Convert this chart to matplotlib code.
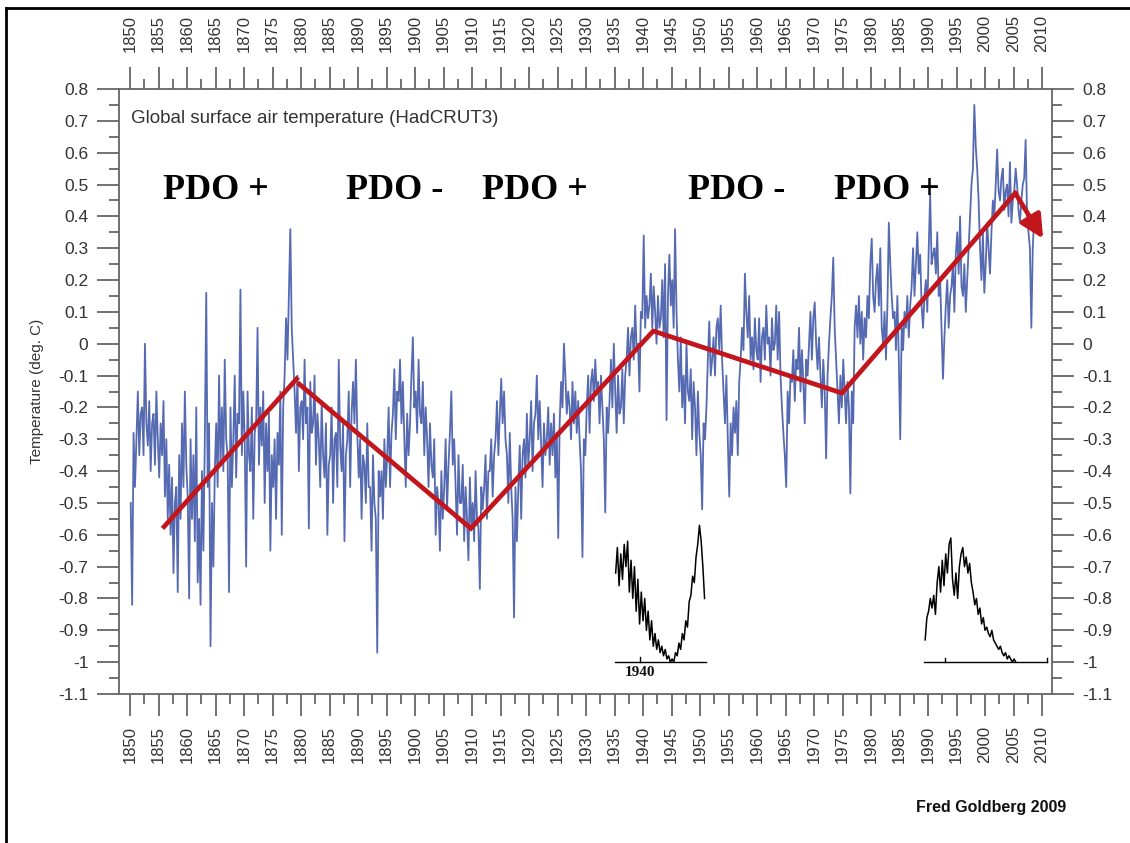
import numpy as np
import matplotlib.pyplot as plt
from matplotlib.lines import Line2D
from matplotlib.ticker import MultipleLocator, FuncFormatter
import matplotlib.transforms as mtransforms

plt.rcParams['font.family'] = ['Liberation Sans', 'DejaVu Sans']
plt.rcParams['axes.unicode_minus'] = False

# ── HadCRUT3 global anomaly (4 values per year) ──
t1850s = [-0.50, -0.82, -0.28, -0.45, -0.30, -0.15, -0.35, -0.22, -0.20, -0.35, 0.00, -0.25,
          -0.32, -0.18, -0.40, -0.25, -0.22, -0.38, -0.15, -0.30, -0.42, -0.25, -0.35, -0.18,
          -0.48, -0.30, -0.55, -0.38, -0.60, -0.42, -0.72, -0.50, -0.45, -0.78, -0.35, -0.55,
          -0.25, -0.45, -0.15, -0.38]
t1860s = [-0.48, -0.80, -0.30, -0.55, -0.35, -0.62, -0.20, -0.75, -0.55, -0.82, -0.40, -0.65,
          -0.30, 0.16, -0.45, -0.25, -0.95, -0.50, -0.70, -0.40, -0.25, -0.45, -0.10, -0.38,
          -0.20, -0.40, -0.05, -0.30, -0.35, -0.78, -0.20, -0.45, -0.30, -0.10, -0.42, -0.22,
          -0.25, 0.17, -0.35, -0.15]
t1870s = [-0.30, -0.70, -0.15, -0.35, -0.40, -0.20, -0.55, -0.28, -0.25, 0.05, -0.38, -0.20,
          -0.32, -0.15, -0.50, -0.25, -0.40, -0.22, -0.65, -0.35, -0.45, -0.30, -0.55, -0.28,
          -0.38, -0.15, -0.60, -0.20, -0.10, 0.08, -0.05, 0.15, 0.36, 0.05, -0.05, -0.15,
          -0.28, -0.10, -0.40, -0.20]
t1880s = [-0.18, -0.30, -0.05, -0.25, -0.20, -0.58, -0.12, -0.28, -0.25, -0.10, -0.38, -0.22,
          -0.30, -0.45, -0.18, -0.35, -0.42, -0.25, -0.60, -0.38, -0.35, -0.20, -0.50, -0.30,
          -0.28, -0.45, -0.05, -0.32, -0.40, -0.25, -0.62, -0.35, -0.30, -0.15, -0.45, -0.22,
          -0.12, -0.25, -0.05, -0.28]
t1890s = [-0.42, -0.30, -0.55, -0.35, -0.38, -0.50, -0.25, -0.45, -0.45, -0.65, -0.35, -0.50,
          -0.55, -0.97, -0.40, -0.48, -0.40, -0.55, -0.30, -0.45, -0.35, -0.20, -0.45, -0.28,
          -0.22, -0.08, -0.30, -0.15, -0.18, -0.05, -0.25, -0.12, -0.30, -0.45, -0.22, -0.35,
          -0.25, -0.10, 0.02, -0.20]
t1900s = [-0.15, -0.28, -0.05, -0.22, -0.25, -0.12, -0.35, -0.20, -0.30, -0.45, -0.25, -0.38,
          -0.42, -0.30, -0.60, -0.45, -0.50, -0.65, -0.40, -0.55, -0.45, -0.30, -0.52, -0.38,
          -0.28, -0.15, -0.38, -0.30, -0.45, -0.60, -0.35, -0.50, -0.50, -0.38, -0.62, -0.45,
          -0.55, -0.68, -0.42, -0.58]
t1910s = [-0.50, -0.62, -0.40, -0.55, -0.58, -0.77, -0.45, -0.52, -0.45, -0.35, -0.55, -0.40,
          -0.40, -0.30, -0.48, -0.35, -0.30, -0.18, -0.35, -0.22, -0.11, -0.25, -0.15, -0.30,
          -0.35, -0.50, -0.28, -0.45, -0.55, -0.86, -0.45, -0.62, -0.45, -0.32, -0.55, -0.35,
          -0.30, -0.42, -0.22, -0.38]
t1920s = [-0.30, -0.18, -0.40, -0.25, -0.22, -0.10, -0.30, -0.18, -0.32, -0.45, -0.25, -0.35,
          -0.30, -0.20, -0.38, -0.25, -0.35, -0.22, -0.42, -0.28, -0.61, -0.25, -0.12, -0.20,
          0.00, -0.10, -0.22, -0.15, -0.20, -0.30, -0.12, -0.25, -0.15, -0.28, -0.18, -0.30,
          -0.40, -0.67, -0.30, -0.35]
t1930s = [-0.20, -0.10, -0.28, -0.12, -0.08, -0.18, -0.05, -0.15, -0.12, -0.25, -0.10, -0.20,
          -0.30, -0.53, -0.20, -0.28, -0.18, -0.05, -0.20, 0.00, -0.15, -0.28, -0.10, -0.22,
          -0.20, -0.08, -0.25, -0.10, -0.05, 0.05, -0.10, 0.02, 0.05, -0.05, 0.12, -0.02,
          0.00, -0.15, 0.10, 0.08]
t1940s = [0.34, 0.05, 0.15, 0.08, 0.12, 0.22, 0.05, 0.18, 0.10, 0.00, 0.15, 0.05,
          0.08, 0.20, 0.02, 0.25, -0.24, 0.15, 0.28, 0.12, 0.20, 0.05, 0.36, 0.10,
          -0.05, -0.15, 0.02, -0.20, -0.10, -0.25, 0.00, -0.15, -0.18, -0.08, -0.30, -0.12,
          -0.20, -0.35, -0.15, -0.28]
t1950s = [-0.35, -0.52, -0.25, -0.30, -0.20, -0.05, 0.07, -0.10, -0.05, 0.02, -0.10, 0.05,
          0.08, -0.02, 0.12, -0.05, -0.15, -0.25, -0.10, -0.30, -0.48, -0.25, -0.35, -0.20,
          -0.28, -0.18, -0.35, -0.12, -0.05, 0.05, -0.02, 0.22, 0.10, 0.02, 0.15, -0.05,
          0.02, -0.08, 0.08, -0.02]
t1960s = [-0.05, 0.08, -0.12, 0.02, 0.05, -0.05, 0.12, 0.00, 0.02, -0.10, 0.08, -0.02,
          0.00, 0.12, -0.05, 0.10, -0.10, -0.20, -0.28, -0.35, -0.45, -0.15, -0.25, -0.10,
          -0.12, -0.02, -0.18, -0.05, -0.08, 0.05, -0.15, -0.02, -0.12, -0.25, -0.05, -0.10,
          0.00, 0.10, -0.05, 0.08]
t1970s = [0.13, 0.00, -0.08, 0.02, -0.10, -0.20, -0.05, -0.15, -0.36, -0.10, 0.00, 0.08,
          0.15, 0.27, 0.05, -0.05, -0.15, -0.25, -0.10, -0.20, -0.05, -0.15, -0.25, -0.12,
          -0.20, -0.47, -0.15, -0.25, 0.05, 0.12, 0.02, 0.15, 0.00, 0.10, -0.05, 0.08,
          0.02, 0.15, 0.08, 0.25]
t1980s = [0.33, 0.15, 0.10, 0.20, 0.25, 0.12, 0.30, 0.05, 0.00, 0.10, -0.05, 0.12,
          0.38, 0.25, 0.15, 0.08, 0.10, -0.02, 0.15, -0.05, -0.30, 0.05, -0.02, 0.10,
          0.05, 0.15, 0.02, 0.12, 0.18, 0.30, 0.15, 0.25, 0.35, 0.22, 0.28, 0.12,
          0.05, 0.15, 0.20, 0.10]
t1990s = [0.30, 0.47, 0.25, 0.28, 0.30, 0.22, 0.35, 0.15, 0.20, 0.05, -0.11, 0.02,
          0.12, 0.20, 0.05, 0.15, 0.18, 0.25, 0.10, 0.28, 0.35, 0.22, 0.40, 0.18,
          0.15, 0.25, 0.10, 0.20, 0.30, 0.40, 0.50, 0.55, 0.75, 0.62, 0.55, 0.45,
          0.30, 0.20, 0.35, 0.16]
t2000s = [0.25, 0.38, 0.30, 0.22, 0.35, 0.45, 0.40, 0.50, 0.61, 0.48, 0.45, 0.52,
          0.55, 0.42, 0.48, 0.50, 0.40, 0.57, 0.38, 0.45, 0.48, 0.55, 0.50, 0.42,
          0.38, 0.45, 0.50, 0.52, 0.64, 0.40, 0.35, 0.30, 0.05, 0.30, 0.40, 0.35]

temp = np.array(t1850s + t1860s + t1870s + t1880s + t1890s + t1900s + t1910s + t1920s +
                t1930s + t1940s + t1950s + t1960s + t1970s + t1980s + t1990s + t2000s)
years = 1850 + (np.arange(len(temp)) + 0.5) / 4

# red PDO trend line (break after 1880) and arrow tip
trend1_x = [1855.7, 1879.5]
trend1_y = [-0.58, -0.105]
trend2_x = [1879.7, 1909.8, 1941.8, 1974.9, 2005.3]
trend2_y = [-0.127, -0.58, 0.04, -0.155, 0.473]
arrow_tip = (2010.2, 0.33)

pdo_labels = ['PDO +', 'PDO -', 'PDO +', 'PDO -', 'PDO +']
pdo_x = [1865.1, 1896.5, 1921.0, 1956.5, 1982.8]

# small black curves pasted on the chart
inset1_vals = [-0.72, -0.64, -0.76, -0.66, -0.74, -0.63, -0.70, -0.62, -0.78, -0.68,
               -0.80, -0.70, -0.84, -0.74, -0.88, -0.78, -0.87, -0.80, -0.90, -0.84,
               -0.93, -0.87, -0.95, -0.91, -0.96, -0.93, -0.97, -0.95, -0.98, -0.96,
               -0.99, -0.98, -1.0, -0.99, -1.0, -0.97, -0.98, -0.94, -0.96, -0.91,
               -0.93, -0.87, -0.89, -0.81, -0.79, -0.73, -0.75, -0.67, -0.63, -0.57,
               -0.62, -0.70, -0.80]
inset2_vals = [-0.93, -0.86, -0.84, -0.80, -0.83, -0.79, -0.85, -0.75, -0.70, -0.78,
               -0.68, -0.76, -0.66, -0.72, -0.63, -0.61, -0.74, -0.79, -0.72, -0.80,
               -0.70, -0.66, -0.64, -0.70, -0.67, -0.72, -0.69, -0.75, -0.78, -0.82,
               -0.80, -0.85, -0.83, -0.88, -0.86, -0.90, -0.89, -0.91, -0.92, -0.90,
               -0.93, -0.94, -0.95, -0.96, -0.95, -0.97, -0.98, -0.97, -0.99, -0.98,
               -0.99, -1.0, -0.99, -1.0]
inset1_years = np.linspace(1935.2, 1950.8, len(inset1_vals))
inset2_years = np.linspace(1989.5, 2005.4, len(inset2_vals))

red = '#c3161c'
grey = '#666666'
label_col = '#333333'

fig = plt.figure(figsize=(11.3, 8.43), dpi=100)
ax = fig.add_axes([119 / 1130, 1 - 694 / 843, (1052 - 119) / 1130, (694 - 89) / 843])

ax.plot(years, temp, color='#3850a5', linewidth=1.3, alpha=0.85, zorder=2)

ax.plot(trend1_x, trend1_y, color=red, linewidth=3.4, solid_capstyle='butt', zorder=4)
ax.plot(trend2_x, trend2_y, color=red, linewidth=3.4, solid_joinstyle='miter', zorder=4)
ax.annotate('', xy=arrow_tip, xytext=(trend2_x[-1], trend2_y[-1]),
            arrowprops=dict(arrowstyle='-|>,head_length=1.4,head_width=0.7',
                            color=red, lw=3.4, shrinkA=0, shrinkB=0), zorder=4)

# insets
ax.plot(inset1_years, inset1_vals, color='black', linewidth=1.1, zorder=3)
ax.plot([1935.1, 1951.05], [-1.0, -1.0], color='black', linewidth=1.0, zorder=3)
ax.plot([1939.5, 1939.5], [-1.0, -0.985], color='black', linewidth=1.0, zorder=3)
ax.text(1939.5, -1.012, '1940', ha='center', va='top', fontsize=11,
        family=['Liberation Serif', 'DejaVu Serif'], fontweight='bold',
        color='#111111', zorder=3)
ax.plot(inset2_years, inset2_vals, color='black', linewidth=1.1, zorder=3)
ax.plot([1989.3, 2010.9], [-1.0, -1.0], color='black', linewidth=1.0, zorder=3)
for tx in [1993.0, 2010.9]:
    ax.plot([tx, tx], [-1.0, -0.988], color='black', linewidth=1.0, zorder=3)

for lab, x in zip(pdo_labels, pdo_x):
    ax.text(x, 0.455, lab, ha='center', va='baseline', fontsize=26, fontweight='bold',
            family=['Liberation Serif', 'DejaVu Serif'], color='black', zorder=5)

ax.text(1850.2, 0.693, 'Global surface air temperature (HadCRUT3)', ha='left',
        va='baseline', fontsize=13.5, color=label_col, zorder=5)

ax.set_xlim(1848.07, 2011.75)
ax.set_ylim(-1.1, 0.8)
ax.xaxis.set_major_locator(MultipleLocator(5))
ax.xaxis.set_minor_locator(MultipleLocator(2.5))
ax.yaxis.set_major_locator(MultipleLocator(0.1))
ax.yaxis.set_minor_locator(MultipleLocator(0.05))
ax.yaxis.set_major_formatter(FuncFormatter(lambda v, p: f'{round(v, 2):g}'))
ax.xaxis.set_major_formatter(FuncFormatter(lambda v, p: f'{int(round(v))}'))

for s in ax.spines.values():
    s.set_color(grey)
    s.set_linewidth(1.3)

ax.tick_params(which='both', direction='out', color=grey, width=1.3,
               top=True, bottom=True, left=True, right=True)
ax.tick_params(which='major', length=16)
ax.tick_params(which='minor', length=7.5)
ax.tick_params(axis='x', which='major', labeltop=True, labelbottom=True,
               labelrotation=90, labelsize=12, labelcolor=label_col, pad=7)
ax.tick_params(axis='y', which='major', labelleft=True, labelright=True,
               labelsize=12.5, labelcolor=label_col, pad=6)

# top year labels sit a little higher than the bottom ones
fig.canvas.draw()
up = mtransforms.ScaledTranslation(0, 4 / 72, fig.dpi_scale_trans)
for tick in ax.xaxis.get_major_ticks():
    tick.label2.set_transform(tick.label2.get_transform() + up)

fig.text(37 / 1130, 1 - 391 / 843, 'Temperature (deg. C)', rotation=90, ha='center',
         va='center', fontsize=11, color=label_col)

fig.text(1066 / 1130, 1 - 812 / 843, 'Fred Goldberg 2009', ha='right', va='baseline',
         fontsize=11.5, fontweight='bold', color='#111111')

# outer frame (left and top edges visible)
fig.add_artist(Line2D([6 / 1130, 6 / 1130], [0, 1 - 8 / 843], color='black', linewidth=2))
fig.add_artist(Line2D([6 / 1130, 1], [1 - 8 / 843, 1 - 8 / 843], color='black', linewidth=2))

fig.savefig('out.png', dpi=100)
